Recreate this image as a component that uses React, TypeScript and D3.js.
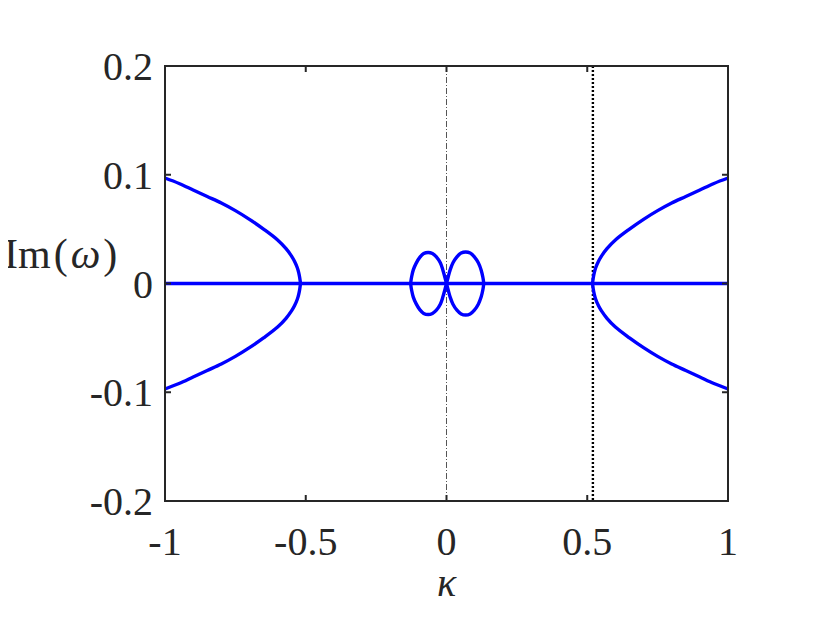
import * as d3 from "d3";
import React, { useEffect, useRef } from "react";

// readings from the picture
const xTicks = [-1, -0.5, 0, 0.5, 1];
const yTicks = [-0.2, -0.1, 0, 0.1, 0.2];
const xTickLabels = ["-1", "-0.5", "0", "0.5", "1"];
const yTickLabels = ["-0.2", "-0.1", "0", "0.1", "0.2"];

// left branch: upper half from kappa=-1 to the vertex (lower half is the mirror)
const branchX = [-1, -0.95, -0.9, -0.85, -0.8, -0.75, -0.7, -0.65, -0.6, -0.57, -0.55, -0.54, -0.53, -0.525, -0.521, -0.519];
const branchY = [0.097, 0.092, 0.086, 0.08, 0.074, 0.067, 0.059, 0.05, 0.04, 0.032, 0.025, 0.0205, 0.0145, 0.01, 0.0045, 0];

// figure eight around kappa=0, upper halves of both lobes
const rightLobeX = [0, 0.006, 0.013, 0.023, 0.037, 0.052, 0.068, 0.084, 0.099, 0.113, 0.123, 0.129, 0.1315, 0.132];
const rightLobeY = [0, 0.006, 0.0125, 0.019, 0.0245, 0.028, 0.029, 0.028, 0.0245, 0.019, 0.0125, 0.006, 0.002, 0];
const leftLobeX = [0, -0.006, -0.013, -0.022, -0.036, -0.05, -0.065, -0.081, -0.095, -0.108, -0.118, -0.124, -0.1265, -0.127];
const leftLobeY = [0, 0.006, 0.0125, 0.019, 0.0245, 0.0275, 0.0285, 0.0275, 0.024, 0.0185, 0.0125, 0.006, 0.002, 0];

const dottedX = 0.52;

function Chart() {
  const svgRef = useRef<SVGSVGElement>(null);

  useEffect(() => {
    const svg = d3.select(svgRef.current);
    svg.selectAll("*").remove();

    const left = 165, right = 728, top = 66, bottom = 501;
    const x = d3.scaleLinear().domain([-1, 1]).range([left, right]);
    const y = d3.scaleLinear().domain([-0.2, 0.2]).range([bottom, top]);

    const line = d3
      .line<[number, number]>()
      .x(d => x(d[0]))
      .y(d => y(d[1]))
      .curve(d3.curveCatmullRom);

    // reference lines
    svg.append("line")
      .attr("x1", x(0)).attr("x2", x(0))
      .attr("y1", top).attr("y2", bottom)
      .attr("stroke", "#555").attr("stroke-width", 1)
      .attr("stroke-dasharray", "6,2,1,2");
    svg.append("line")
      .attr("x1", x(dottedX)).attr("x2", x(dottedX))
      .attr("y1", top).attr("y2", bottom)
      .attr("stroke", "#000").attr("stroke-width", 2.4)
      .attr("stroke-dasharray", "2,2");

    // closed curve from an upper half: go out, come back mirrored in Im
    const closeUp = (xs: number[], ys: number[]) => {
      const up = xs.map((v, i) => [v, ys[i]] as [number, number]);
      const down = up.slice(0, -1).reverse().map(d => [d[0], -d[1]] as [number, number]);
      return up.concat(down);
    };

    const leftBranch = closeUp(branchX, branchY);
    const rightBranch = leftBranch.map(d => [-d[0], d[1]] as [number, number]);
    const rightLobe = closeUp(rightLobeX, rightLobeY);
    const leftLobe = closeUp(leftLobeX, leftLobeY);

    const curves = [leftBranch, rightBranch, rightLobe, leftLobe, [[-1, 0], [1, 0]] as [number, number][]];

    svg.selectAll(".curve")
      .data(curves)
      .join("path")
      .attr("class", "curve")
      .attr("d", d => line(d))
      .attr("fill", "none")
      .attr("stroke", "#0000ff")
      .attr("stroke-width", 3.4);

    // box and inward ticks
    const axisColor = "#262626";
    svg.append("rect")
      .attr("x", left).attr("y", top)
      .attr("width", right - left).attr("height", bottom - top)
      .attr("fill", "none").attr("stroke", axisColor).attr("stroke-width", 2);

    const tl = 6;
    xTicks.forEach(t => {
      svg.append("line").attr("x1", x(t)).attr("x2", x(t)).attr("y1", bottom).attr("y2", bottom - tl)
        .attr("stroke", axisColor).attr("stroke-width", 2);
      svg.append("line").attr("x1", x(t)).attr("x2", x(t)).attr("y1", top).attr("y2", top + tl)
        .attr("stroke", axisColor).attr("stroke-width", 2);
    });
    yTicks.forEach(t => {
      svg.append("line").attr("x1", left).attr("x2", left + tl).attr("y1", y(t)).attr("y2", y(t))
        .attr("stroke", axisColor).attr("stroke-width", 2);
      svg.append("line").attr("x1", right).attr("x2", right - tl).attr("y1", y(t)).attr("y2", y(t))
        .attr("stroke", axisColor).attr("stroke-width", 2);
    });

    const font = "'Liberation Serif', 'Times New Roman', serif";
    svg.selectAll(".xlab")
      .data(xTicks)
      .join("text")
      .attr("class", "xlab")
      .attr("x", d => x(d))
      .attr("y", 555)
      .attr("text-anchor", "middle")
      .attr("font-family", font)
      .attr("font-size", 40)
      .attr("fill", axisColor)
      .text((d, i) => xTickLabels[i]);

    svg.selectAll(".ylab")
      .data(yTicks)
      .join("text")
      .attr("class", "ylab")
      .attr("x", 153)
      .attr("y", d => y(d) + 14)
      .attr("text-anchor", "end")
      .attr("font-family", font)
      .attr("font-size", 40)
      .attr("fill", axisColor)
      .text((d, i) => yTickLabels[i]);

    const yTitle = svg.append("text")
      .attr("x", 4).attr("y", 268)
      .attr("font-family", font)
      .attr("font-size", 42)
      .attr("fill", axisColor);
    yTitle.append("tspan").text("Im");
    yTitle.append("tspan").attr("dx", 3).text("(");
    yTitle.append("tspan").attr("font-style", "italic").attr("dx", 3).text("ω");
    yTitle.append("tspan").attr("dx", 3).text(")");

    svg.append("text")
      .attr("x", x(0)).attr("y", 596)
      .attr("text-anchor", "middle")
      .attr("font-family", font)
      .attr("font-style", "italic")
      .attr("font-size", 40)
      .attr("fill", axisColor)
      .text("κ");
  }, []);

  return <svg ref={svgRef} width={830} height={624} style={{ display: "block" }}></svg>;
}

export default function App() {
  return (
    <div style={{ margin: -8 }}>
      <Chart />
    </div>
  );
}
